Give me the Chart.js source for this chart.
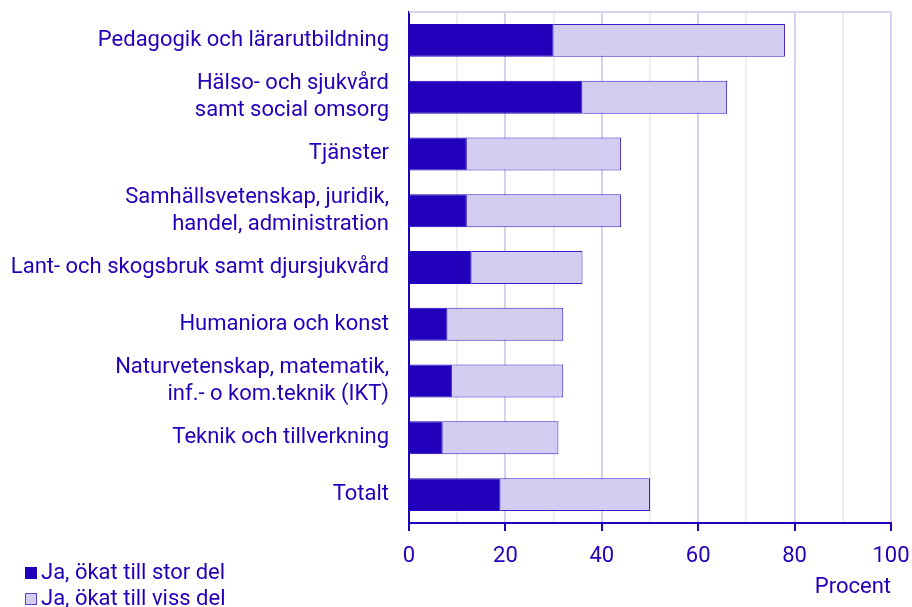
<!DOCTYPE html>
<html>
<head>
<meta charset="utf-8">
<script src="https://cdn.jsdelivr.net/npm/chart.js@4"></script>
<style>
  html, body { margin: 0; padding: 0; background: #fff; }
  #wrap { position: relative; width: 912px; height: 607px; }
  .legend { position: absolute; left: 25px; font: 22px Roboto, sans-serif; color: #2200bb; }
  .legend div { height: 26px; line-height: 26px; white-space: nowrap; }
  .legend span { display: inline-block; width: 12px; height: 12px; margin-right: 4px; box-sizing: border-box; vertical-align: 0px; }
</style>
</head>
<body>
<div id="wrap">
  <canvas id="chart" width="912" height="607"></canvas>
  <div class="legend" style="top:559px">
    <div><span style="background:#2200bb"></span>Ja, ökat till stor del</div>
    <div><span style="background:#d3cdf1;border:1px solid #5a40d0"></span>Ja, ökat till viss del</div>
  </div>
</div>
<script>
// Data
const categories = [
  'Pedagogik och lärarutbildning',
  ['Hälso- och sjukvård', 'samt social omsorg'],
  'Tjänster',
  ['Samhällsvetenskap, juridik,', 'handel, administration'],
  'Lant- och skogsbruk samt djursjukvård',
  'Humaniora och konst',
  ['Naturvetenskap, matematik,', 'inf.- o kom.teknik (IKT)'],
  'Teknik och tillverkning',
  'Totalt',
];
const storDel = [30, 36, 12, 12, 13, 8, 9, 7, 19];
const vissDel = [48, 30, 32, 32, 23, 24, 23, 24, 31];
const xTicks = [0, 20, 40, 60, 80, 100];

const DARK = '#2200bb';
const LIGHT = '#d3cdf1';
const TEXT = '#2200bb';
const GRID_MAJOR = '#d5d2f0';
const GRID_MINOR = '#ececf1';
const FONT = { family: 'Roboto', size: 22 };

// top border of plot area
const topBorder = {
  id: 'topBorder',
  afterDraw(chart) {
    const { ctx, chartArea } = chart;
    ctx.save();
    ctx.strokeStyle = GRID_MAJOR;
    ctx.lineWidth = 2;
    ctx.beginPath();
    ctx.moveTo(chartArea.left, chartArea.top);
    ctx.lineTo(chartArea.right, chartArea.top);
    ctx.stroke();
    ctx.restore();
  }
};

new Chart(document.getElementById('chart'), {
  type: 'bar',
  data: {
    labels: categories,
    datasets: [
      {
        label: 'Ja, ökat till stor del',
        data: storDel,
        backgroundColor: DARK,
        borderColor: DARK,
        borderWidth: 1,
        barPercentage: 0.58,
        categoryPercentage: 1,
      },
      {
        label: 'Ja, ökat till viss del',
        data: vissDel,
        backgroundColor: LIGHT,
        borderColor: '#3a1ec8',
        borderWidth: 1,
        barPercentage: 0.58,
        categoryPercentage: 1,
      },
    ],
  },
  options: {
    indexAxis: 'y',
    responsive: false,
    animation: false,
    layout: { padding: { top: 12, right: 21, left: 0, bottom: 0 } },
    plugins: {
      legend: { display: false },
      tooltip: { enabled: false },
    },
    scales: {
      x: {
        stacked: true,
        min: 0,
        max: 100,
        ticks: {
          stepSize: 10,
          autoSkip: false,
          color: TEXT,
          font: FONT,
          padding: 12,
          maxRotation: 0,
          callback: (v) => xTicks.includes(v) ? String(v) : '',
        },
        grid: {
          color: (c) => c.tick && c.tick.value % 20 === 0 ? GRID_MAJOR : GRID_MINOR,
          lineWidth: 2,
          tickLength: 8,
          tickColor: (c) => c.tick && c.tick.value % 20 === 0 ? DARK : 'rgba(0,0,0,0)',
          tickWidth: 2,
        },
        border: { color: DARK, width: 2 },
        title: {
          display: true,
          text: 'Procent',
          align: 'end',
          color: TEXT,
          font: FONT,
          padding: { top: 0, bottom: 6 },
        },
        afterFit(scale) {
          scale.height = 84;
          scale.paddingLeft = 0;
          scale.paddingRight = 0;
        },
      },
      y: {
        stacked: true,
        ticks: {
          autoSkip: false,
          color: TEXT,
          font: { family: 'Roboto', size: 22, lineHeight: 1.23 },
          padding: 20,
        },
        grid: { display: false, drawTicks: false },
        border: { color: DARK, width: 2 },
        afterFit(scale) {
          scale.width = 409;
          scale.paddingTop = 0;
          scale.paddingBottom = 0;
        },
      },
    },
  },
  plugins: [topBorder],
});
</script>
</body>
</html>
